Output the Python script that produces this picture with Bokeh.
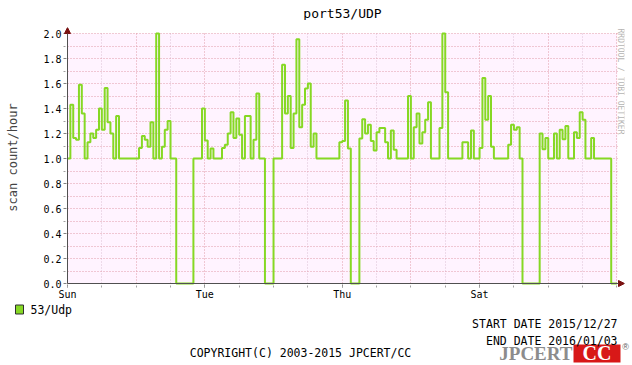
from bokeh.plotting import figure
from bokeh.layouts import column
from bokeh.models import (FixedTicker, PrintfTickFormatter, Label, Plot,
                          Arrow, NormalHead, Range1d, Grid, BoxAnnotation)
from bokeh.embed import file_html
from bokeh.resources import INLINE

title_text = "port53/UDP"
series_name = "53/Udp"
y_label = "scan count/hour"
day_labels = ["Sun", "Tue", "Thu", "Sat"]
day_label_hours = [0, 48, 96, 144]
start_date = "START DATE 2015/12/27"
end_date = "END DATE 2016/01/03"
copyright_text = "COPYRIGHT(C) 2003-2015 JPCERT/CC"
watermark = "RRDTOOL / TOBI OETIKER"

# hourly scan counts, one list per day (Sun 2015/12/27 .. Sun 2016/01/03)
day0 = [1.0, 1.43, 1.165, 1.15, 1.59, 1.36, 1.0, 1.13, 1.2, 1.165, 1.23, 1.4,
        1.23, 1.565, 1.29, 1.2, 1.0, 1.34, 1.0, 1.0, 1.0, 1.0, 1.0, 1.0]
day1 = [1.0, 1.085, 1.18, 1.15, 1.095, 1.29, 1.0, 2.0, 1.0, 1.095, 1.23, 1.3,
        1.0, 1.0, 0.0, 0.0, 0.0, 0.0, 0.0, 0.0, 1.0, 1.0, 1.0, 1.4]
day2 = [1.145, 1.0, 1.08, 1.0, 1.0, 1.0, 1.085, 1.11, 1.2, 1.37, 1.165, 1.32,
        1.19, 1.0, 1.34, 1.34, 1.0, 1.15, 1.52, 1.0, 1.0, 0.0, 0.0, 0.0]
day3 = [1.0, 1.0, 1.0, 1.75, 1.36, 1.5, 1.085, 1.36, 1.955, 1.25, 1.43, 1.56,
        1.6, 1.095, 1.2, 1.0, 1.0, 1.0, 1.0, 1.0, 1.0, 1.0, 1.0, 1.13]
day4 = [1.14, 1.465, 1.08, 0.0, 0.0, 0.0, 1.16, 1.315, 1.2, 1.27, 1.14, 1.065,
        1.21, 1.245, 1.245, 1.13, 1.0, 1.225, 1.07, 1.0, 1.0, 1.0, 1.0, 1.5]
day5 = [1.0, 1.25, 1.36, 1.12, 1.21, 1.31, 1.45, 1.0, 1.0, 1.0, 1.245, 2.0,
        1.53, 1.0, 1.0, 1.0, 1.0, 1.0, 1.13, 1.13, 1.0, 1.225, 1.0, 1.0]
day6 = [1.085, 1.645, 1.31, 1.5, 1.095, 1.0, 1.0, 1.0, 1.0, 1.0, 1.11, 1.27,
        1.23, 1.25, 1.0, 0.0, 0.0, 0.0, 0.0, 0.0, 0.0, 1.2, 1.075, 1.165]
day7 = [1.0, 1.0, 1.2, 1.0, 1.23, 1.155, 1.26, 1.0, 1.0, 1.21, 1.165, 1.37,
        1.31, 1.0, 1.0, 1.165, 1.0, 1.0, 1.0, 1.0, 1.0, 1.0, 0.0, 0.0]

values = day0 + day1 + day2 + day3 + day4 + day5 + day6 + day7
hours = list(range(len(values)))

y_major = [0.0, 0.2, 0.4, 0.6, 0.8, 1.0, 1.2, 1.4, 1.6, 1.8, 2.0]
y_minor = [0.1, 0.3, 0.5, 0.7, 0.9, 1.1, 1.3, 1.5, 1.7, 1.9]
day_hours = [0, 24, 48, 72, 96, 120, 144, 168, 192]
half_day_hours = [12, 36, 60, 84, 108, 132, 156, 180]
x_end = 192.2   # end of the plotted period (hours)
y_top = 2.0

GREEN = "#86D824"
PINK = "#FFF3FF"
MONO = "DejaVu Sans Mono"
HAS_CROSS = "cross_bounds" in Grid.properties()
HAS_FRAME_ALIGN = "frame_align" in Plot.properties()


def text_strip(height, y_top_px, y_bottom_px):
    """A plain figure used only to carry texts, in page pixel coordinates."""
    s = figure(width=632, height=height, x_range=Range1d(0, 632),
               y_range=Range1d(y_bottom_px, y_top_px),
               output_backend="svg", toolbar_location=None,
               x_axis_type=None, y_axis_type=None, min_border=0)
    s.outline_line_color = None
    s.grid.visible = False
    s.background_fill_color = "white"
    s.border_fill_color = "white"
    if HAS_FRAME_ALIGN:
        s.frame_align = False
    return s


def lab(fig, text, x, y, **kw):
    opts = dict(text_font=MONO, text_font_size="11.5px", text_color="#000000",
                text_baseline="middle")
    opts.update(kw)
    fig.add_layout(Label(x=x, y=y, text=text, **opts))


# ---------------- header (title) ----------------
h = text_strip(20, 0, 20)
lab(h, title_text, 342, 13, text_align="center", text_font_size="13px")

# pixel geometry: plot area 550 x 250 px; small margin round it for the axis arrows
kx = 550 / x_end
ky = 250 / y_top

# ---------------- main chart ----------------
p = figure(width=632, height=283,
           x_range=Range1d(-4 / kx, x_end + 7 / kx),
           y_range=Range1d(-4 / ky, y_top + 6 / ky),
           output_backend="svg", toolbar_location=None,
           min_border_left=63, min_border_right=8, min_border_top=7, min_border_bottom=16)
p.background_fill_color = "white"
p.border_fill_color = "white"
p.outline_line_color = None
p.xgrid.visible = False
p.ygrid.visible = False
if HAS_FRAME_ALIGN:
    p.frame_align = False

# pink plotting area
p.add_layout(BoxAnnotation(left=0, right=x_end, bottom=0, top=y_top, fill_color=PINK,
                           fill_alpha=1, line_alpha=0, level="underlay"))


def grid(dim, ticks, color):
    g = Grid(dimension=dim, ticker=FixedTicker(ticks=ticks), grid_line_color=color,
             grid_line_dash="1 2", grid_line_width=1)
    if HAS_CROSS:
        g.cross_bounds = (0, y_top) if dim == 0 else (0, x_end)
    p.add_layout(g)


grid(0, half_day_hours, "#DCC0D4")
grid(0, day_hours, "#E09AA8")
grid(1, y_major + y_minor, "#E09AA8")

# step line of the hourly data
p.step(hours + [len(values)], values + [values[-1]], mode="after",
       line_color=GREEN, line_width=2)

# axes (lines drawn as arrows below; ticks point outwards from the arrows)
xa = p.xaxis[0]
xa.ticker = FixedTicker(ticks=day_label_hours, minor_ticks=day_hours + half_day_hours)
xa.major_label_overrides = {hr: lb for hr, lb in zip(day_label_hours, day_labels)}
xa.major_label_standoff = 1
ya = p.yaxis[0]
ya.ticker = FixedTicker(ticks=y_major, minor_ticks=y_minor)
ya.formatter = PrintfTickFormatter(format="%.1f")
ya.major_label_standoff = 2
ya.axis_label = y_label
ya.axis_label_text_font = MONO
ya.axis_label_text_font_size = "12px"
ya.axis_label_text_font_style = "normal"
ya.axis_label_standoff = 20
for ax in (xa, ya):
    ax.axis_line_color = None
    ax.major_tick_line_color = "#808080"
    ax.minor_tick_line_color = "#A0A0A0"
    ax.major_tick_out = 0
    ax.major_tick_in = 3
    ax.minor_tick_out = 0
    ax.minor_tick_in = 2
    ax.major_label_text_font = MONO
    ax.major_label_text_font_size = "10px"
    ax.major_label_text_color = "#000000"

# axis lines with arrow heads
arrow_col = "#7A1010"
p.add_layout(Arrow(end=NormalHead(size=6, fill_color=arrow_col, line_color=arrow_col),
                   x_start=0, y_start=0, x_end=0, y_end=y_top + 6 / ky,
                   line_color="#505050", line_width=1))
p.add_layout(Arrow(end=NormalHead(size=6, fill_color=arrow_col, line_color=arrow_col),
                   x_start=0, y_start=0, x_end=x_end + 7 / kx, y_end=0,
                   line_color="#505050", line_width=1))

# watermark at the right edge
p.add_layout(Label(x=557, y=259, x_units="screen", y_units="screen", text=watermark,
                   angle=-90, angle_units="deg", text_align="left", text_baseline="middle",
                   text_font=MONO, text_font_size="8px", text_color="#B4B4B4"))

# ---------------- footer (legend, dates, copyright) ----------------
f = text_strip(62, 303, 365)

# legend swatch
f.quad(left=[15], right=[23], top=[304.5], bottom=[313.5], fill_color=GREEN,
       line_color="#303030", line_width=1)
lab(f, series_name, 30, 309, text_align="left")
lab(f, start_date, 617, 323, text_align="right")
lab(f, end_date, 617, 340, text_align="right")
lab(f, copyright_text, 300, 352, text_align="center")
# JPCERT/CC logo
f.quad(left=[573], right=[620], top=[344], bottom=[362], fill_color="#D81818",
       line_color=None)
lab(f, "JPCERT", 572, 352.5, text_align="right", text_font="Liberation Serif",
    text_font_style="bold", text_font_size="19px", text_color="#8C8C8C")
lab(f, "CC", 596.5, 352.5, text_align="center", text_font="Liberation Serif",
    text_font_style="bold", text_font_size="20px", text_color="#FFFFFF")
lab(f, "\u00ae", 625, 346, text_align="center", text_font="Liberation Sans",
    text_font_size="9px", text_color="#606060")

layout = column(h, p, f, spacing=0)
open("out.html", "w").write(file_html(layout, INLINE))
